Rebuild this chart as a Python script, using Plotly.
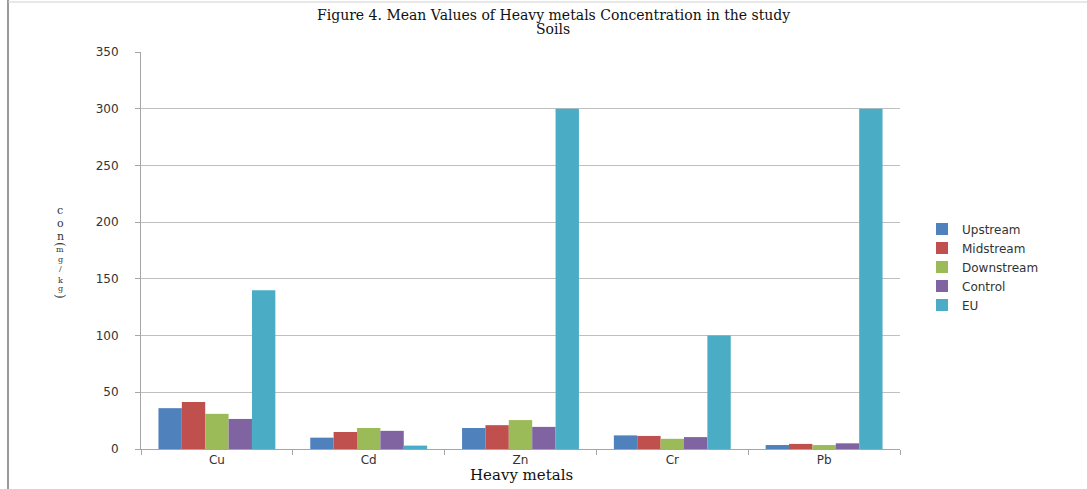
import plotly.graph_objects as go

metals = ["Cu", "Cd", "Zn", "Cr", "Pb"]
upstream = [36, 10, 18.5, 12, 3.5]
midstream = [41.5, 15, 21, 11.5, 4.5]
downstream = [31, 18.5, 25.5, 9, 3.5]
control = [26.5, 16, 19.5, 10.5, 5]
eu = [140, 3, 300, 100, 300]

series = [
    ("Upstream", upstream, "#4F81BD"),
    ("Midstream", midstream, "#C0504D"),
    ("Downstream", downstream, "#9BBB59"),
    ("Control", control, "#8064A2"),
    ("EU", eu, "#4BACC6"),
]

W, H = 1087, 489
L, R, T, B = 141, 187, 52, 40
PW, PH = W - L - R, H - T - B


def px(xp):
    return (xp - L) / PW


def py(yp):
    return (H - B - yp) / PH


fig = go.Figure()
for name, vals, col in series:
    fig.add_trace(go.Bar(x=metals, y=vals, name=name, marker=dict(color=col, line=dict(width=0))))

tick_font = dict(family="DejaVu Sans", size=12, color="#333333")
serif = "DejaVu Serif"

fig.update_layout(
    width=W, height=H,
    margin=dict(l=L, r=R, t=T, b=B, autoexpand=False),
    paper_bgcolor="white", plot_bgcolor="white",
    barmode="group", bargap=0.23, bargroupgap=0,
    legend=dict(x=1.029, y=py(267), xanchor="left", yanchor="middle",
                font=dict(family="DejaVu Sans", size=12, color="#333333"),
                tracegroupgap=0, itemwidth=30, bgcolor="rgba(0,0,0,0)"),
    showlegend=True,
    xaxis=dict(showline=True, linecolor="#A6A6A6", linewidth=1, automargin=False,
               ticks="outside", ticklen=5, tickcolor="#A6A6A6",
               tickson="boundaries", tickfont=tick_font),
    yaxis=dict(range=[0, 350], dtick=50, showline=True, linecolor="#A6A6A6", linewidth=1,
               automargin=False,
               ticks="outside", ticklen=5, tickcolor="#A6A6A6",
               showgrid=True, gridcolor="#BFBFBF", gridwidth=1,
               tickfont=tick_font, ticklabelstandoff=14, zeroline=False),
)

# title (two lines)
for txt, yy in [("Figure 4. Mean Values of Heavy metals Concentration in the study", 15), ("Soils", 29)]:
    fig.add_annotation(text=txt, x=px(553), y=py(yy), xref="paper", yref="paper",
                       xanchor="center", yanchor="middle", showarrow=False,
                       font=dict(family=serif, size=14, color="#111111"))

# x-axis title
fig.add_annotation(text="Heavy metals", x=px(521), y=py(475), xref="paper", yref="paper",
                   xanchor="center", yanchor="middle", showarrow=False,
                   font=dict(family=serif, size=15, color="#111111"))

# stacked y-axis title
ylab_chars = [("c", 210, 11), ("o", 223, 11), ("n", 236, 11),
              ("m", 250, 8), ("g", 259, 8), ("/", 268, 8), ("k", 280, 8), ("g", 288, 8)]
for ch, yy, sz in ylab_chars:
    fig.add_annotation(text=ch, x=px(60), y=py(yy), xref="paper", yref="paper",
                       xanchor="center", yanchor="middle", showarrow=False,
                       font=dict(family=serif, size=sz, color="#333333"))
for ch, yy in [("(", 244), (")", 296)]:
    fig.add_annotation(text=ch, x=px(60), y=py(yy), xref="paper", yref="paper",
                       xanchor="center", yanchor="middle", showarrow=False, textangle=90,
                       font=dict(family=serif, size=12, color="#333333"))

# page border lines (left and top)
fig.add_shape(type="line", xref="paper", yref="paper",
              x0=px(8), x1=px(8), y0=py(H), y1=py(0),
              line=dict(color="#9A9A9A", width=2))
fig.add_shape(type="line", xref="paper", yref="paper",
              x0=px(8), x1=px(W), y0=py(2), y1=py(2),
              line=dict(color="#D0D0D0", width=1))

fig.write_html("out.html")
